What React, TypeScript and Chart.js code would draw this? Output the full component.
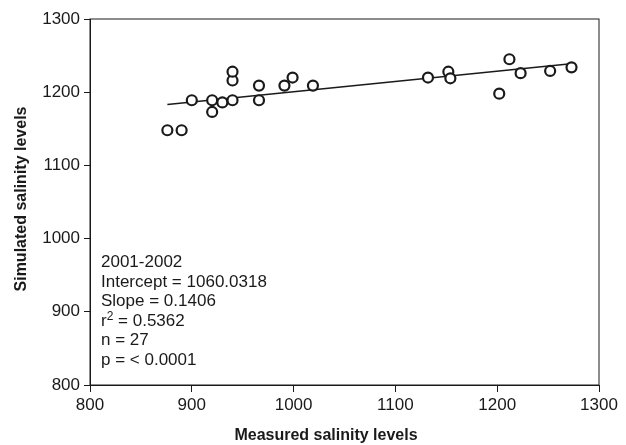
import React, { useEffect, useRef } from "react";
import { Chart, registerables } from "chart.js";

Chart.register(...registerables);

const measured = [876, 890, 900, 920, 920, 930, 940, 940, 940, 966, 966, 991, 999, 1019, 1132, 1152, 1154, 1202, 1212, 1223, 1252, 1273];
const simulated = [1148, 1148, 1189, 1189, 1173, 1186, 1189, 1216, 1228, 1189, 1209, 1209, 1220, 1209, 1220, 1228, 1219, 1198, 1245, 1226, 1229, 1234];
const xTicks = [800, 900, 1000, 1100, 1200, 1300];
const yTicks = [800, 900, 1000, 1100, 1200, 1300];
const fitRange = [876, 1270];
const intercept = 1060.0318;
const slope = 0.1406;
const statLines = ["2001-2002", "Intercept = 1060.0318", "Slope = 0.1406", "r2", "n = 27", "p = < 0.0001"];
const xTitle = "Measured salinity levels";
const yTitle = "Simulated salinity levels";

const FONT = "Arial, 'Liberation Sans', sans-serif";
const INK = "#1a1a1a";

export default function App() {
  const ref = useRef<HTMLCanvasElement | null>(null);

  useEffect(() => {
    document.body.style.margin = "0";
    const canvas = ref.current;
    if (!canvas) return;

    const overlay = {
      id: "overlay",
      afterDraw(chart: any) {
        const { ctx, chartArea } = chart;
        ctx.save();
        ctx.strokeStyle = INK;
        ctx.lineWidth = 1;
        ctx.strokeRect(chartArea.left, chartArea.top, chartArea.right - chartArea.left, chartArea.bottom - chartArea.top);
        ctx.fillStyle = INK;
        ctx.textBaseline = "alphabetic";
        ctx.textAlign = "left";
        const x0 = chartArea.left + 11;
        let y = 267;
        const step = 19.5;
        statLines.forEach((line) => {
          ctx.font = `17px ${FONT}`;
          if (line === "r2") {
            ctx.fillText("r", x0, y);
            const rw = ctx.measureText("r").width;
            ctx.font = `12px ${FONT}`;
            ctx.fillText("2", x0 + rw, y - 6);
            const sw = ctx.measureText("2").width;
            ctx.font = `17px ${FONT}`;
            ctx.fillText(" = 0.5362", x0 + rw + sw, y);
          } else {
            ctx.fillText(line, x0, y);
          }
          y += step;
        });
        ctx.font = `bold 16px ${FONT}`;
        ctx.textAlign = "center";
        ctx.textBaseline = "middle";
        ctx.fillText(xTitle, 326, 436);
        ctx.translate(22, 199);
        ctx.rotate(-Math.PI / 2);
        ctx.fillText(yTitle, 0, 0);
        ctx.restore();
      },
    };

    const tickFmt = (v: any) => String(v);

    const chart = new Chart(canvas, {
      type: "scatter",
      data: {
        datasets: [
          {
            type: "line",
            data: fitRange.map((x) => ({ x, y: intercept + slope * x })),
            borderColor: INK,
            borderWidth: 1.6,
            pointRadius: 0,
            fill: false,
            order: 2,
          },
          {
            data: measured.map((x, i) => ({ x, y: simulated[i] })),
            pointRadius: 5,
            pointBorderWidth: 2.2,
            pointBorderColor: INK,
            pointBackgroundColor: "#ffffff",
            order: 1,
          },
        ],
      },
      options: {
        responsive: false,
        animation: false,
        layout: { padding: { top: 19, right: 27, left: 0, bottom: 0 } },
        plugins: { legend: { display: false }, tooltip: { enabled: false } },
        scales: {
          x: {
            type: "linear",
            min: 800,
            max: 1300,
            afterBuildTicks: (s: any) => { s.ticks = xTicks.map((v) => ({ value: v })); },
            afterFit: (s: any) => { s.height = 60; },
            grid: { drawOnChartArea: false, drawTicks: true, tickLength: 7, color: INK },
            border: { display: true, color: INK, width: 1 },
            ticks: { color: INK, padding: 3, font: { family: FONT, size: 17 }, callback: tickFmt },
          },
          y: {
            type: "linear",
            min: 800,
            max: 1300,
            afterBuildTicks: (s: any) => { s.ticks = yTicks.map((v) => ({ value: v })); },
            afterFit: (s: any) => { s.width = 90; },
            grid: { drawOnChartArea: false, drawTicks: true, tickLength: 6, color: INK },
            border: { display: true, color: INK, width: 1 },
            ticks: { color: INK, padding: 4, font: { family: FONT, size: 17 }, callback: tickFmt },
          },
        },
      },
      plugins: [overlay],
    } as any);

    return () => chart.destroy();
  }, []);

  return <canvas ref={ref} width={626} height={445} style={{ display: "block" }} />;
}
